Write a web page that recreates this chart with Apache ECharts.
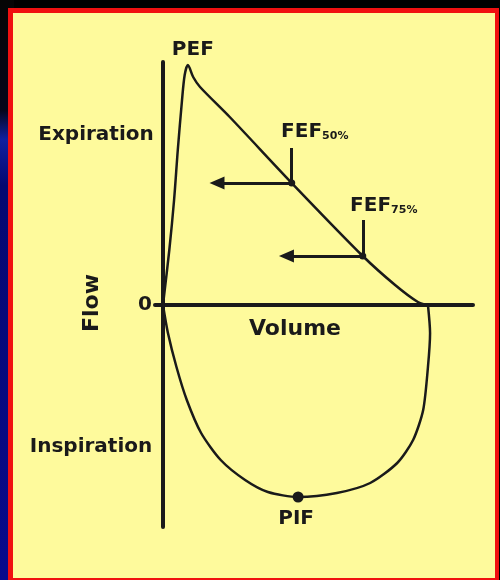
<!DOCTYPE html>
<html>
<head>
<meta charset="utf-8">
<script src="https://cdn.jsdelivr.net/npm/echarts@6/dist/echarts.min.js"></script>
<style>
  html, body { margin: 0; padding: 0; background: #000; }
  #main { width: 500px; height: 580px; }
</style>
</head>
<body>
<div id="main"></div>
<script>
// flow-volume loop, volume in L, flow in L/s
// expiration: from 0 up to PEF and down to FVC
var expVolume = [0, 0.12, 0.21, 0.28, 0.36, 0.41, 0.47, 0.57, 0.70, 1.26, 2.43, 3.77, 4.38, 4.81, 5.00];
var expFlow   = [0, 2.2, 4.2, 6.2, 8.2, 9.2, 9.6, 9.12, 8.72, 7.52, 4.88, 1.96, 0.8, 0.12, 0];
// inspiration: from FVC back to 0
var inspVolume = [5.00, 5.04, 5.00, 4.91, 4.72, 4.42, 3.91, 3.28, 2.55, 1.98, 1.55, 1.09, 0.72, 0.45, 0.255, 0.094, 0];
var inspFlow   = [0, -1.12, -2.48, -4.2, -5.4, -6.32, -7.12, -7.52, -7.68, -7.48, -7.0, -6.2, -5.12, -3.8, -2.48, -1.12, 0];

// named points
var markNames  = ['PEF', 'FEF50%', 'FEF75%', 'PIF'];
var markVolume = [0.47, 2.43, 3.77, 2.55];
var markFlow   = [9.6, 4.88, 1.96, -7.68];

// arrows pointing back to the flow axis (FEF50, FEF75)
var arrowFromVolume = [2.43, 3.77];
var arrowToVolume   = [1.02, 2.33];
var arrowFlow       = [4.88, 1.96];
var tickTopFlow     = [6.28, 3.4];

var yAxisLabels = [0];

var ink = '#1a1a1a';
var font = 'DejaVu Sans';

function pairs(xs, ys) {
    return xs.map(function (v, i) { return [v, ys[i]]; });
}

var markData = markNames.map(function (n, i) {
    var item = { name: n, value: [markVolume[i], markFlow[i]] };
    if (n === 'PEF') {
        item.symbolSize = 0;
        item.label = { position: 'top', distance: 5, offset: [5, 0] };
    } else if (n === 'PIF') {
        item.symbolSize = 11;
        item.label = { position: 'bottom', distance: 6, offset: [-2, 0] };
    } else if (n === 'FEF50%') {
        item.symbolSize = 7;
        item.label = { position: 'top', distance: 38, offset: [23, 0] };
    } else {
        item.symbolSize = 7;
        item.label = { position: 'top', distance: 37, offset: [21, 0] };
    }
    return item;
});

var arrowLines = [];
for (var i = 0; i < arrowFromVolume.length; i++) {
    arrowLines.push([
        { coord: [arrowFromVolume[i], arrowFlow[i]], symbol: 'none' },
        { coord: [arrowToVolume[i], arrowFlow[i]], symbol: 'triangle', symbolSize: [13, 15] }
    ]);
    arrowLines.push([
        { coord: [arrowFromVolume[i], arrowFlow[i]], symbol: 'none' },
        { coord: [arrowFromVolume[i], tickTopFlow[i]], symbol: 'none' }
    ]);
}

var myChart = echarts.init(document.getElementById('main'));
var option = {
    backgroundColor: '#000',
    animation: false,
    graphic: [
        { // left strip, black to navy
            type: 'rect', z: -10, shape: { x: 0, y: 0, width: 14, height: 580 },
            style: { fill: new echarts.graphic.LinearGradient(0, 0, 0, 1, [
                { offset: 0, color: '#050505' },
                { offset: 0.19, color: '#05051a' },
                { offset: 0.24, color: '#1020a0' },
                { offset: 0.32, color: '#050870' },
                { offset: 1, color: '#080a8c' }
            ]) }
        },
        { type: 'rect', z: -9, shape: { x: 8, y: 8, width: 491, height: 580 }, style: { fill: '#f01010' } },
        { type: 'rect', z: -8, shape: { x: 13, y: 13, width: 482, height: 565 }, style: { fill: '#fefa9c' } },
        { type: 'text', x: 96, y: 135, z: 5, style: { text: 'Expiration', font: 'bold 20px "' + font + '"', fill: ink, align: 'center', verticalAlign: 'middle' } },
        { type: 'text', x: 91, y: 447, z: 5, style: { text: 'Inspiration', font: 'bold 20px "' + font + '"', fill: ink, align: 'center', verticalAlign: 'middle' } },
        { type: 'text', x: 92, y: 303, z: 5, rotation: Math.PI / 2, style: { text: 'Flow', font: 'bold 22px "' + font + '"', fill: ink, align: 'center', verticalAlign: 'middle' } },
        { type: 'text', x: 295, y: 329, z: 5, style: { text: 'Volume', font: 'bold 22px "' + font + '"', fill: ink, align: 'center', verticalAlign: 'middle' } }
    ],
    grid: { left: 155, right: 27, top: 62, bottom: 53 },
    xAxis: {
        type: 'value',
        min: -0.15,
        max: 5.85,
        axisLine: { onZero: true, lineStyle: { color: ink, width: 4 } },
        axisTick: { show: false },
        axisLabel: { show: false },
        splitLine: { show: false }
    },
    yAxis: {
        type: 'value',
        min: -8.88,
        max: 9.72,
        axisLine: { onZero: true, lineStyle: { color: ink, width: 4 } },
        axisTick: { show: false },
        axisLabel: {
            customValues: yAxisLabels,
            margin: 3,
            color: ink,
            fontFamily: font,
            fontWeight: 'bold',
            fontSize: 20
        },
        splitLine: { show: false }
    },
    series: [{
        name: 'expiration',
        type: 'line',
        data: pairs(expVolume, expFlow),
        smooth: 0.3,
        symbol: 'none',
        lineStyle: { color: ink, width: 2.5 },
        markLine: {
            silent: true,
            symbol: ['none', 'none'],
            label: { show: false },
            lineStyle: { color: ink, width: 3, type: 'solid' },
            emphasis: { disabled: true },
            data: arrowLines
        }
    }, {
        name: 'inspiration',
        type: 'line',
        data: pairs(inspVolume, inspFlow),
        smooth: 0.25,
        symbol: 'none',
        lineStyle: { color: ink, width: 2.5 }
    }, {
        name: 'marks',
        type: 'scatter',
        data: markData,
        itemStyle: { color: ink, opacity: 1 },
        label: {
            show: true,
            color: ink,
            formatter: function (p) {
                var m = p.name.match(/^(FEF)(\d+%)$/);
                if (m) return '{a|' + m[1] + '}{b|' + m[2] + '}';
                return '{a|' + p.name + '}';
            },
            rich: {
                a: { fontFamily: font, fontWeight: 'bold', fontSize: 20, color: ink },
                b: { fontFamily: font, fontWeight: 'bold', fontSize: 11, color: ink, verticalAlign: 'bottom' }
            }
        },
        z: 4
    }]
};
myChart.setOption(option);
</script>
</body>
</html>
